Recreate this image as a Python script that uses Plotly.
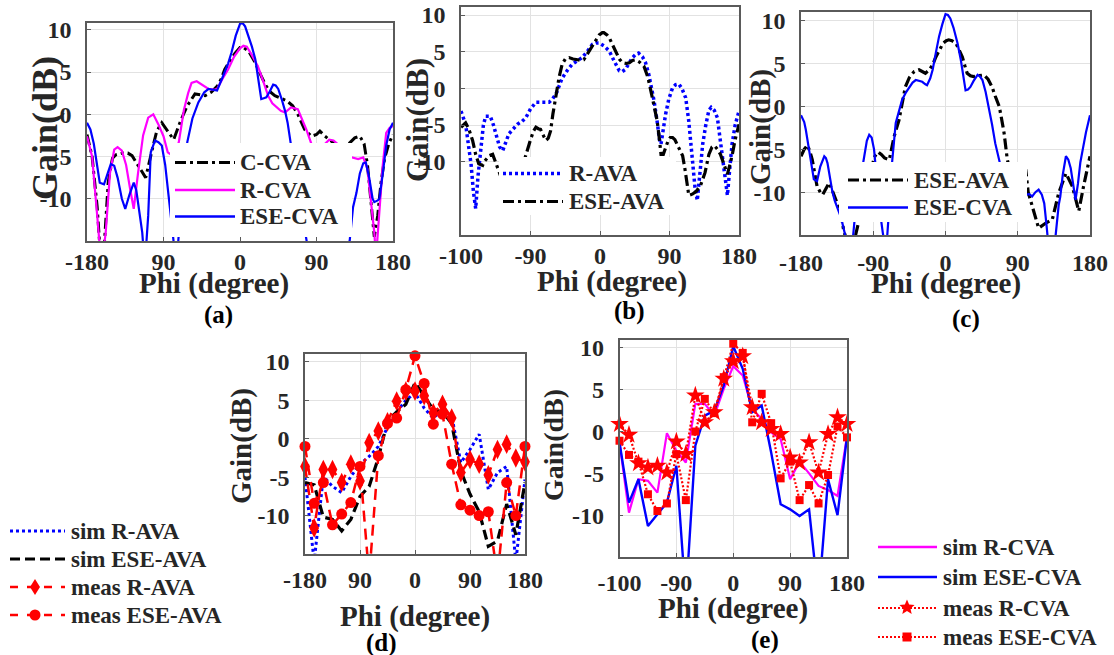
import math
import plotly.graph_objects as go

W, H = 1114, 655

# ---------------- DATA ----------------
# (a)
a_ccva_phi = [-180, -174, -168, -164, -160, -155, -150, -146, -138, -132, -127, -120, -111, -104, -98, -92, -85, -78,
              -70, -62, -53, -46, -41, -34, -27, -22, -18, -12, -6, 0, 4, 10, 18, 25, 31, 36, 41, 48, 55, 62, 68, 76,
              84, 90, 94, 100, 108, 118, 128, 135, 141, 146, 150, 154, 158, 162, 166, 170, 175, 180]
a_ccva_gain = [-2.4, -5.0, -11.0, -17.0, -16.0, -8.0, -5.2, -4.8, -4.6, -4.6, -4.9, -6.0, -7.5, -4.5, -2.0, -1.0, -2.0,
               -3.0, -0.8, 1.0, 2.4, 2.3, 2.2, 2.6, 3.3, 4.2, 5.3, 6.3, 7.2, 7.9, 7.9, 7.5, 6.1, 4.5, 3.3, 2.6, 2.2,
               1.9, 1.6, 1.0, 0.0, -1.8, -2.6, -2.4, -2.0, -2.6, -3.2, -4.0, -3.5, -2.8, -2.6, -3.5, -6.0, -10.0,
               -14.5, -12.0, -8.0, -5.3, -3.5, -2.4]
a_rcva_phi = [-180, -174, -168, -163, -158, -153, -148, -144, -139, -134, -129, -125, -120, -114, -108, -102, -96, -90,
              -85, -78, -72, -66, -61, -57, -51, -44, -37, -30, -27, -20, -14, -7, 0, 4, 8, 14, 21, 27, 33, 38, 43,
              48, 53, 60, 68, 73, 78, 84, 95, 105, 110, 118, 128, 139, 145, 150, 154, 158, 160, 164, 168, 172, 176,
              180]
a_rcva_gain = [-2.6, -5.0, -12.0, -18.0, -14.0, -7.0, -4.2, -3.9, -4.3, -6.0, -9.0, -11.2, -7.0, -2.5, -0.4, 0.0, -1.2,
               -2.6, -4.5, -5.0, -3.3, 0.5, 2.5, 3.7, 3.9, 3.5, 3.0, 2.9, 3.0, 4.3, 5.3, 6.8, 7.8, 8.1, 8.0, 7.0, 5.7,
               4.0, 2.2, 1.3, 0.8, 0.4, 0.2, 0.8, 0.6, -0.5, -1.8, -3.5, -4.0, -3.0, -3.1, -3.8, -5.0, -5.3, -5.1,
               -6.5, -10.0, -14.0, -17.0, -12.0, -6.0, -2.2, -1.6, -1.4]
a_esecva_phi = [-180, -176, -172, -168, -165, -160, -156, -152, -148, -144, -139, -135, -130, -125, -122, -119, -115,
                -112, -108, -105, -100, -96, -92, -88, -83, -79, -76, -73, -68, -62, -56, -49, -42, -37, -32, -27, -20,
                -14, -10, -5, 0, 3, 6, 10, 14, 18, 22, 25, 28, 31, 35, 39, 42, 45, 49, 53, 56, 59, 65, 72, 80, 100,
                120, 127, 129, 133, 137, 141, 145, 148, 152, 156, 158, 162, 164, 168, 172, 176, 180]
a_esecva_gain = [-1.0, -1.8, -3.5, -6.5, -8.1, -8.3, -7.0, -5.9, -6.1, -7.5, -10.0, -11.2, -9.5, -8.1, -9.0, -11.2,
                 -14.0, -18.0, -12.0, -4.5, -3.1, -3.3, -3.7, -6.0, -11.0, -15.5, -17.0, -15.5, -9.0, -3.3, -0.5, 1.4,
                 2.6, 3.0, 2.9, 2.8, 4.5, 6.0, 7.3, 9.3, 10.7, 10.8, 10.4, 9.3, 8.0, 6.5, 4.0, 1.8, 1.9, 2.0, 2.7, 3.5,
                 3.4, 3.0, 1.8, 0.4, -1.0, -3.0, -7.0, -11.0, -16.0, -20.0, -18.0, -16.0, -15.0, -11.0, -9.3, -7.0,
                 -5.8, -5.7, -7.5, -10.0, -10.4, -10.2, -10.0, -7.0, -3.7, -1.8, -1.0]

# (b)
b_rava_phi = [-180, -174, -170, -167, -164, -161, -158, -154, -151, -148, -142, -138, -135, -130, -126, -122, -118,
              -112, -107, -101, -96, -90, -83, -75, -66, -62, -57, -53, -49, -42, -36, -29, -23, -16, -10, -5, -1, 5,
              12, 18, 25, 29, 33, 38, 42, 46, 50, 55, 59, 63, 67, 70, 74, 77, 79, 82, 85, 89, 94, 98, 102, 106, 111,
              115, 118, 120, 123, 126, 129, 133, 137, 141, 144, 148, 152, 155, 158, 161, 165, 168, 171, 175, 180]
b_rava_gain = [-3.1, -4.9, -8.0, -10.3, -14.0, -16.4, -12.0, -8.1, -5.0, -3.8, -3.8, -5.0, -6.2, -8.0, -8.5, -7.5,
               -6.2, -5.5, -4.9, -4.5, -4.0, -2.8, -1.9, -1.9, -1.9, -1.5, -0.8, 0.3, 1.4, 2.5, 3.3, 3.8, 4.2, 5.1,
               6.0, 6.2, 6.2, 5.8, 5.1, 3.8, 2.4, 2.3, 2.6, 3.5, 4.2, 4.6, 4.8, 4.3, 3.5, 2.0, 0.0, -1.7, -4.5, -7.0,
               -7.6, -5.5, -3.5, -1.5, 0.1, 0.5, 0.6, 0.0, -1.3, -4.5, -8.0, -10.3, -13.5, -15.3, -12.0, -7.6, -5.0,
               -3.0, -2.6, -3.0, -4.0, -6.5, -9.0, -12.0, -14.6, -11.0, -7.6, -5.0, -3.1]
b_eseava_phi = [-180, -174, -170, -165, -161, -157, -152, -150, -146, -144, -139, -134, -125, -115, -105, -100, -96,
                -90, -86, -83, -80, -77, -73, -70, -67, -64, -61, -57, -53, -49, -45, -40, -35, -29, -24, -21, -16,
                -12, -6, -1, 3, 5, 9, 12, 16, 20, 25, 29, 34, 38, 42, 46, 51, 57, 62, 66, 70, 74, 77, 79, 82, 85, 88,
                91, 94, 97, 100, 104, 107, 110, 113, 115, 120, 125, 130, 136, 141, 145, 148, 152, 156, 160, 165, 168,
                171, 175, 180]
b_eseava_gain = [-5.3, -4.7, -5.5, -7.1, -9.0, -10.3, -10.5, -10.0, -9.5, -9.2, -9.0, -10.5, -13.0, -14.0, -12.0,
                 -10.5, -9.0, -7.0, -5.8, -5.3, -5.5, -5.6, -6.5, -7.1, -6.8, -5.8, -3.5, -0.8, 1.5, 3.3, 4.0, 4.2,
                 4.0, 3.9, 3.8, 3.9, 4.8, 5.5, 6.5, 7.3, 7.6, 7.6, 7.3, 6.9, 6.0, 5.1, 4.0, 3.5, 3.4, 3.5, 3.8, 3.9,
                 3.6, 3.0, 1.5, -0.4, -2.5, -4.4, -7.0, -9.0, -9.0, -8.1, -7.2, -6.7, -6.7, -7.0, -7.6, -8.5, -9.2,
                 -11.0, -13.5, -14.6, -14.4, -14.0, -13.3, -11.5, -9.0, -8.0, -7.8, -8.3, -9.0, -10.3, -11.7, -10.5,
                 -9.2, -7.0, -4.9]

# (c)
c_eseava_phi = [-180, -176, -172, -169, -166, -163, -160, -156, -153, -149, -145, -141, -137, -134, -131, -127, -122,
                -112, -102, -95, -88, -84, -80, -76, -70, -67, -64, -58, -54, -50, -45, -39, -33, -29, -25, -20, -16,
                -12, -8, -3, 1, 4, 8, 13, 17, 21, 24, 27, 31, 35, 41, 48, 53, 58, 62, 67, 70, 73, 77, 85, 95, 100, 103,
                110, 116, 125, 133, 141, 150, 158, 166, 172, 180]
c_eseava_gain = [-5.8, -5.0, -4.5, -5.2, -6.2, -8.0, -9.3, -10.0, -10.3, -9.6, -8.9, -9.8, -10.9, -11.5, -12.0, -14.4,
                 -16.0, -15.0, -11.0, -8.0, -5.8, -5.3, -5.6, -6.0, -6.2, -5.0, -3.5, -1.6, 0.5, 2.3, 3.4, 4.1, 4.3,
                 4.1, 3.9, 4.3, 4.9, 5.8, 6.6, 7.4, 7.7, 7.8, 7.7, 7.4, 6.6, 5.8, 4.8, 3.9, 3.6, 3.5, 3.6, 3.7, 3.2,
                 2.3, 1.2, 0.0, -1.5, -3.1, -6.2, -9.0, -7.0, -7.4, -10.0, -12.4, -14.2, -13.6, -13.2, -10.1, -7.8,
                 -9.3, -12.2, -9.3, -5.8]
c_esecva_phi = [-180, -176, -174, -170, -166, -164, -160, -156, -151, -149, -147, -144, -141, -138, -135, -130, -125,
                -120, -116, -112, -106, -101, -98, -95, -92, -89, -86, -82, -78, -74, -71, -67, -62, -58, -54, -49,
                -45, -41, -37, -33, -29, -25, -23, -19, -16, -12, -8, -4, 0, 3, 6, 10, 15, 19, 22, 25, 28, 31, 35, 40,
                43, 46, 50, 54, 58, 62, 66, 70, 80, 95, 104, 108, 112, 116, 120, 123, 126, 129, 134, 138, 141, 143,
                146, 150, 153, 156, 159, 162, 165, 168, 171, 175, 180]
c_esecva_gain = [-1.0, -1.8, -2.7, -5.0, -7.8, -8.5, -8.7, -7.0, -5.8, -6.0, -6.6, -8.5, -9.9, -11.0, -11.7, -13.0,
                 -15.0, -18.0, -16.0, -12.0, -8.5, -5.8, -4.0, -3.3, -3.6, -5.0, -8.0, -12.0, -14.8, -17.0, -13.0,
                 -7.0, -1.9, -0.5, 0.8, 1.7, 2.3, 2.8, 3.1, 3.0, 2.9, 2.6, 2.5, 3.3, 4.3, 6.3, 8.2, 9.6, 10.8, 10.7,
                 10.3, 9.2, 7.4, 5.5, 3.5, 1.9, 2.0, 2.3, 3.0, 3.7, 3.5, 3.1, 1.7, 0.0, -2.1, -4.3, -5.8, -7.5, -10.0,
                 -10.5, -10.2, -10.5, -10.0, -9.7, -10.3, -11.3, -14.0, -17.0, -18.0, -14.0, -11.5, -10.5, -8.0, -5.8,
                 -6.2, -7.2, -9.0, -10.9, -9.0, -6.5, -5.0, -3.0, -1.0]

# (d) and (e): 15-degree sampled data
phi15 = [-180, -165, -150, -135, -120, -105, -90, -75, -60, -45, -30, -15, 0,
         15, 30, 45, 60, 75, 90, 105, 120, 135, 150, 165, 180]
d_sim_rava = [-5.0, -16.0, -4.9, -6.2, -7.0, -4.9, -3.3, -2.3, -1.0, 1.5, 3.5, 5.0, 6.0,
              4.0, 2.7, 3.8, 3.0, -3.1, -1.4, 0.6, -6.6, -4.4, -3.6, -16.0, -5.3]
d_sim_eseava = [-5.7, -6.0, -10.2, -10.5, -12.0, -10.5, -7.5, -6.2, -2.5, 2.3, 3.5, 4.5, 7.3,
                5.5, 3.8, 3.5, 2.0, -4.2, -7.2, -9.5, -14.0, -13.3, -8.5, -12.5, -5.7]
d_meas_rava = [-3.6, -11.6, -4.0, -4.0, -5.7, -3.3, -5.5, -0.5, 1.0, 2.2, 4.9, 6.2, 6.2,
               5.6, 3.4, 4.5, 2.7, -4.4, -2.7, -3.3, -4.7, -1.4, -0.7, -2.5, -3.0]
d_meas_eseava = [-1.0, -8.4, -5.7, -11.2, -9.8, -8.3, -3.6, -18.0, -2.2, 2.0, 2.7, 6.4, 10.8,
                 7.2, 1.9, 3.2, -3.3, -8.6, -9.3, -10.0, -9.5, -18.0, -5.7, -10.0, -1.0]
e_sim_rcva = [-1.3, -9.7, -5.7, -5.9, -7.3, -0.2, -2.3, -3.7, 3.3, 3.3, 1.9, 5.1, 7.8,
              6.7, 2.7, 1.5, -0.1, -0.9, -5.7, -3.6, -5.0, -6.5, -7.0, -7.7, -0.6]
e_sim_esecva = [-1.3, -8.5, -5.7, -11.3, -9.9, -8.5, -4.1, -20.0, -1.7, 1.9, 2.5, 5.5, 10.2,
                7.5, 2.3, 3.1, -2.5, -8.7, -9.3, -10.1, -9.3, -20.0, -5.7, -10.0, -0.6]
e_meas_rcva = [0.9, -0.4, -3.8, -4.3, -4.1, -4.9, -1.2, -2.7, 4.3, 1.1, 2.3, 6.3, 8.4,
               9.0, 2.9, 1.1, 0.3, -0.3, -3.1, -3.7, -1.3, -4.9, -0.3, 1.7, 0.9]
e_meas_esecva = [-1.1, -2.8, -3.6, -7.5, -9.5, -8.6, -2.7, -8.2, 0.0, 3.9, 2.2, 6.5, 10.5,
                 9.4, 1.1, 4.5, 1.0, -5.6, -3.6, -8.2, -6.4, -8.6, -5.2, 0.6, -0.7]

x_tickvals = [-180, -90, 0, 90, 180]
a_xticks = ["-180", "90", "0", "90", "180"]
b_xticks = ["-100", "-90", "0", "90", "180"]
c_xticks = ["-180", "-90", "0", "90", "180"]
d_xticks = ["-180", "90", "0", "90", "180"]
e_xticks = ["-100", "-90", "0", "90", "180"]
y_tickvals = [-10, -5, 0, 5, 10]
y_ticks = ["-10", "-5", "0", "5", "10"]

# ---------------- STYLE ----------------
FONT = "Liberation Serif"
TXT = "#262626"
BLACK, BLUE, MAG, RED = "#000000", "#0000ff", "#ff00ff", "#ff0000"
DASHDOT = "11px,4px,3px,4px"
DOTTED_B = "3px,3px"
DASHED_K = "10px,5px"
DASHED_R = "11px,7px"
DOTTED_R = "2px,2px"


def fx(x):
    return x / W


def fy(y):
    return 1 - y / H


fig = go.Figure()

panels = {
    "a": dict(ax="", dom_x=(87, 393), dom_y=(23, 241), yr=[-15, 10.8], xt=a_xticks, so=-2),
    "b": dict(ax="2", dom_x=(461, 739), dom_y=(7, 235), yr=[-20, 11.1], xt=b_xticks, so=-2),
    "c": dict(ax="3", dom_x=(801, 1090), dom_y=(12, 235), yr=[-15, 11.05], xt=c_xticks, so=5),
    "d": dict(ax="4", dom_x=(305, 525), dom_y=(354, 554), yr=[-15, 11.04], xt=d_xticks, so=3),
    "e": dict(ax="5", dom_x=(619.5, 847), dom_y=(339.5, 557), yr=[-15, 11.0], xt=e_xticks, so=3),
}

layout_axes = {}
for k, p in panels.items():
    s = p["ax"]
    common = dict(showgrid=True, gridcolor="#e2e2e2", gridwidth=1, zeroline=False, showline=True,
                  mirror=True, linecolor="#5a5a5a", linewidth=1.5, ticks="inside", ticklen=4,
                  tickcolor="#5a5a5a", fixedrange=True, automargin=False,
                  tickfont=dict(family=FONT, size=24, color=TXT, weight="bold"))
    layout_axes["xaxis" + s] = dict(common, domain=[fx(p["dom_x"][0]), fx(p["dom_x"][1])],
                                    range=[-180, 180], tickmode="array", tickvals=x_tickvals,
                                    ticktext=p["xt"], anchor="y" + s, ticklabelstandoff=p["so"])
    layout_axes["yaxis" + s] = dict(common, domain=[fy(p["dom_y"][1]), fy(p["dom_y"][0])],
                                    range=p["yr"], tickmode="array", tickvals=y_tickvals,
                                    ticktext=y_ticks, anchor="x" + s, ticklabelstandoff=9)


def add_line(panel, x, y, color, dash, width, name):
    s = panels[panel]["ax"]
    fig.add_trace(go.Scatter(x=x, y=y, mode="lines", name=name, showlegend=False,
                             line=dict(color=color, dash=dash, width=width),
                             xaxis="x" + s, yaxis="y" + s, hoverinfo="skip"))


def add_meas(panel, x, y, color, dash, width, symbol, size, name):
    s = panels[panel]["ax"]
    fig.add_trace(go.Scatter(x=x, y=y, mode="lines+markers", name=name, showlegend=False,
                             line=dict(color=color, dash=dash, width=width),
                             marker=dict(symbol=symbol, size=size, color=color, line=dict(width=0)),
                             cliponaxis=False, xaxis="x" + s, yaxis="y" + s, hoverinfo="skip"))


# (a)
add_line("a", a_ccva_phi, a_ccva_gain, BLACK, DASHDOT, 3, "C-CVA")
add_line("a", a_rcva_phi, a_rcva_gain, MAG, "solid", 2.2, "R-CVA")
add_line("a", a_esecva_phi, a_esecva_gain, BLUE, "solid", 2.2, "ESE-CVA")
# (b)
add_line("b", b_rava_phi, b_rava_gain, BLUE, DOTTED_B, 3.5, "R-AVA")
add_line("b", b_eseava_phi, b_eseava_gain, BLACK, DASHDOT, 3.2, "ESE-AVA")
# (c)
add_line("c", c_eseava_phi, c_eseava_gain, BLACK, DASHDOT, 3.2, "ESE-AVA")
add_line("c", c_esecva_phi, c_esecva_gain, BLUE, "solid", 2.2, "ESE-CVA")
# (d)
add_line("d", phi15, d_sim_rava, BLUE, DOTTED_B, 3, "sim R-AVA")
add_line("d", phi15, d_sim_eseava, BLACK, DASHED_K, 3.2, "sim ESE-AVA")
add_meas("d", phi15, d_meas_rava, RED, DASHED_R, 2.5, "diamond-tall", 14, "meas R-AVA")
add_meas("d", phi15, d_meas_eseava, RED, DASHED_R, 2.5, "circle", 11, "meas ESE-AVA")
# (e)
add_line("e", phi15, e_sim_rcva, MAG, "solid", 2.2, "sim R-CVA")
add_line("e", phi15, e_sim_esecva, BLUE, "solid", 2.4, "sim ESE-CVA")
add_meas("e", phi15, e_meas_rcva, RED, DOTTED_R, 2.2, "star", 14, "meas R-CVA")
add_meas("e", phi15, e_meas_esecva, RED, DOTTED_R, 2.2, "square", 8, "meas ESE-CVA")

# ---------------- manual legends (shapes + text) ----------------
shapes = []
annots = []


def rect(x0, y0, x1, y1, color):
    shapes.append(dict(type="rect", xref="paper", yref="paper", x0=fx(x0), x1=fx(x1), y0=fy(y1), y1=fy(y0),
                       fillcolor=color, line=dict(width=0), layer="above"))


def seg(x0, x1, y, color, dash, width):
    shapes.append(dict(type="line", xref="paper", yref="paper", x0=fx(x0), x1=fx(x1), y0=fy(y), y1=fy(y),
                       line=dict(color=color, dash=dash, width=width), layer="above"))


def path_shape(pts, color):
    d = "M" + " L".join(f"{fx(x):.6f},{fy(y):.6f}" for x, y in pts) + " Z"
    shapes.append(dict(type="path", xref="paper", yref="paper", path=d, fillcolor=color,
                       line=dict(width=0), layer="above"))


def circle(cx, cy, r, color):
    shapes.append(dict(type="circle", xref="paper", yref="paper", x0=fx(cx - r), x1=fx(cx + r),
                       y0=fy(cy + r), y1=fy(cy - r), fillcolor=color, line=dict(width=0), layer="above"))


def diamond(cx, cy, w, h, color):
    path_shape([(cx, cy - h), (cx + w, cy), (cx, cy + h), (cx - w, cy)], color)


def star(cx, cy, R, color):
    pts = []
    for i in range(10):
        ang = math.radians(-90 + 36 * i)
        r = R if i % 2 == 0 else R * 0.45
        pts.append((cx + r * math.cos(ang), cy + r * math.sin(ang)))
    path_shape(pts, color)


def text(x, y, s, size, xanchor="center", angle=0, color=TXT):
    annots.append(dict(x=fx(x), y=fy(y), xref="paper", yref="paper", text=s, showarrow=False,
                       font=dict(family=FONT, size=size, color=color, weight="bold"),
                       xanchor=xanchor, yanchor="middle", textangle=angle, borderpad=0))


LEG = 23
# legend (a)
rect(170, 143, 352, 237, "white")
seg(175, 235, 162.5, BLACK, DASHDOT, 3)
seg(175, 235, 190, MAG, "solid", 2.5)
seg(175, 235, 216.5, BLUE, "solid", 2.5)
text(239, 162.5, "C-CVA", LEG, "left")
text(239, 190, "R-CVA", LEG, "left")
text(239, 216.5, "ESE-CVA", LEG, "left")
# legend (b)
rect(499, 157, 676, 215, "white")
seg(503, 563, 173.5, BLUE, DOTTED_B, 3.5)
seg(503, 563, 201.5, BLACK, DASHDOT, 3.2)
text(568, 173.5, "R-AVA", LEG, "left")
text(568, 201.5, "ESE-AVA", LEG, "left")
# legend (c)
rect(839, 162, 1027, 222, "white")
seg(848, 908, 180, BLACK, DASHDOT, 3.2)
seg(848, 908, 207.5, BLUE, "solid", 2.5)
text(913, 180, "ESE-AVA", LEG, "left")
text(913, 207.5, "ESE-CVA", LEG, "left")
# legend (d)
seg(10, 65, 531, BLUE, DOTTED_B, 3)
seg(10, 65, 559, BLACK, DASHED_K, 3.2)
seg(10, 65, 587, RED, "8px,9px", 2.5)
seg(10, 65, 615, RED, "8px,9px", 2.5)
diamond(35, 587, 5, 8, RED)
circle(35, 615, 5.5, RED)
text(70, 531, "sim R-AVA", LEG, "left")
text(70, 559, "sim ESE-AVA", LEG, "left")
text(70, 587, "meas R-AVA", LEG, "left")
text(70, 615, "meas ESE-AVA", LEG, "left")
# legend (e)
seg(878, 937, 547, MAG, "solid", 2.5)
seg(878, 937, 577, BLUE, "solid", 2.5)
seg(878, 937, 608, RED, DOTTED_R, 2.2)
seg(878, 937, 637, RED, DOTTED_R, 2.2)
star(907, 607.5, 8, RED)
rect(902.5, 632.5, 911.5, 641.5, RED)
text(942, 547, "sim R-CVA", LEG, "left")
text(942, 577, "sim ESE-CVA", LEG, "left")
text(942, 608, "meas R-CVA", LEG, "left")
text(942, 637, "meas ESE-CVA", LEG, "left")

# axis titles and panel labels
XT = 29
text(214, 283, "Phi (degree)", XT)
text(612, 281, "Phi (degree)", XT)
text(946, 283, "Phi (degree)", XT)
text(415, 616, "Phi (degree)", XT)
text(733, 608, "Phi (degree)", XT)
text(45, 128, "Gain(dB)", 36, angle=-90)
text(418, 120, "Gain(dB)", 31, angle=-90)
text(760, 127, "Gain(dB)", 29, angle=-90)
text(241, 446, "Gain(dB)", 29, angle=-90)
text(553, 445, "Gain(dB)", 28, angle=-90)
text(218, 315, "(a)", 25, color="#000000")
text(629, 311, "(b)", 25, color="#000000")
text(966, 319, "(c)", 25, color="#000000")
text(381, 643, "(d)", 25, color="#000000")
text(765, 640, "(e)", 25, color="#000000")

fig.update_layout(width=W, height=H, margin=dict(l=0, r=0, t=0, b=0, autoexpand=False),
                  paper_bgcolor="white", plot_bgcolor="white", showlegend=False,
                  shapes=shapes, annotations=annots, **layout_axes)

fig.write_html("out.html", config={"displayModeBar": False})
